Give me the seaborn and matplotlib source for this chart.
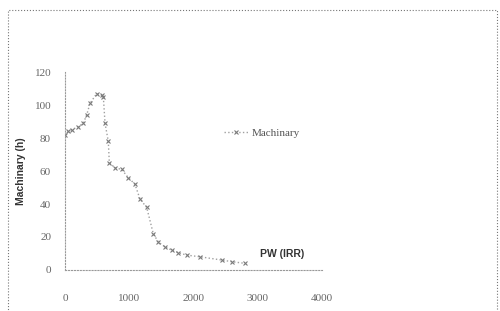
import numpy as np
import pandas as pd
import matplotlib
matplotlib.use('Agg')
import matplotlib.pyplot as plt
import seaborn as sns
from matplotlib.patches import Rectangle

sns.set_style('white')
plt.rcParams['font.family'] = ['Liberation Serif', 'DejaVu Serif']

# values
pw_irr = [0, 52, 104, 207, 285, 337, 389, 493, 571, 597, 623, 674, 690, 778, 882, 985,
          1089, 1167, 1271, 1374, 1452, 1556, 1660, 1763, 1894, 2101, 2439, 2600, 2800]
machinary = [82, 84, 85, 87, 89, 94, 101, 107, 106, 105, 89, 78, 65, 62, 61, 56,
             52, 43, 38, 22, 17, 14, 12, 10.5, 9, 8, 6, 5, 4]
x_ticks = [0, 1000, 2000, 3000, 4000]
y_ticks = [0, 20, 40, 60, 80, 100, 120]

df = pd.DataFrame({'PW (IRR)': pw_irr, 'Machinary': machinary})

fig = plt.figure(figsize=(5, 3.11), dpi=100)
ax = fig.add_axes([0.13, 0.132, 0.514, 0.636])

sns.lineplot(data=df, x='PW (IRR)', y='Machinary', ax=ax, color='#a0a0a0',
             linestyle=':', linewidth=1.0, marker='x', markersize=3,
             markeredgewidth=0.8, markeredgecolor='#7a7a7a', label='Machinary')

ax.set_xlim(0, 4000)
ax.set_ylim(0, 120)
ax.set_xticks(x_ticks)
ax.set_yticks(y_ticks)
ax.tick_params(labelsize=8, colors='#666666', length=0)
ax.tick_params(axis='x', pad=17)
ax.tick_params(axis='y', pad=10)
ax.set_xlabel('')
ax.set_ylabel('Machinary (h)', fontsize=7.5, fontweight='bold', color='#333333',
              labelpad=6, family=['Liberation Sans', 'DejaVu Sans'])

for side in ['top', 'right']:
    ax.spines[side].set_visible(False)
for side in ['left', 'bottom']:
    ax.spines[side].set_linestyle(':')
    ax.spines[side].set_color('#999999')
    ax.spines[side].set_linewidth(0.8)

leg = ax.legend(loc='center left', bbox_to_anchor=(0.58, 0.69), frameon=False,
                fontsize=8, handlelength=2.2, handletextpad=0.3)
for t in leg.get_texts():
    t.set_color('#555555')

fig.text(0.565, 0.183, 'PW (IRR)', fontsize=7.5, fontweight='bold', color='#333333',
         ha='center', va='center', family=['Liberation Sans', 'DejaVu Sans'])

fig.patches.append(Rectangle((0.016, -0.1), 0.978, 1.068, transform=fig.transFigure,
                             fill=False, linestyle=':', edgecolor='#777777', linewidth=0.8))

fig.savefig('out.png', dpi=100)
